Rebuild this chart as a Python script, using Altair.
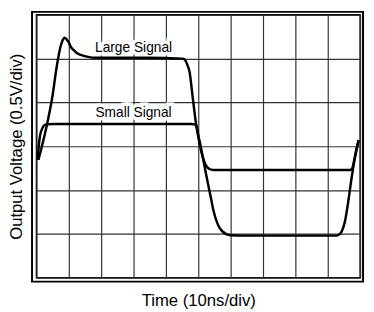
import altair as alt
import pandas as pd

# Time in ns (10 ns/div), voltage in V (0.5 V/div)
large_t = [0.61, 2.85, 4.85, 6.36, 7.39, 8.09, 8.70, 9.30, 9.91, 10.67, 11.42, 12.64, 13.94, 15.97, 18.0,
           34.2, 45.1, 45.8, 46.6, 47.3, 48.3, 49.3, 50.8, 52.3, 53.8, 54.8, 55.9, 57.4, 59.9, 62.9,
           92.6, 93.4, 94.2, 95.3, 96.3, 97.3, 98.3, 99.6]
large_v = [1.345, 1.68, 2.05, 2.43, 2.63, 2.71, 2.74, 2.72, 2.69, 2.63, 2.60, 2.56, 2.54, 2.52, 2.51,
           2.51, 2.50, 2.49, 2.43, 2.35, 2.05, 1.76, 1.49, 1.20, 0.93, 0.75, 0.62, 0.53, 0.485, 0.48,
           0.48, 0.49, 0.52, 0.64, 0.86, 1.12, 1.35, 1.57]

small_t = [0.36, 0.82, 1.21, 1.64, 2.18, 2.94, 5.36, 47.8, 48.8, 49.5, 50.0, 50.8, 51.8, 52.8, 54.4,
           97.0, 97.6, 98.0, 98.6, 99.3, 99.6]
small_v = [1.345, 1.54, 1.64, 1.69, 1.73, 1.75, 1.755, 1.755, 1.75, 1.72, 1.61, 1.46, 1.33, 1.26, 1.23,
           1.23, 1.25, 1.31, 1.42, 1.54, 1.57]

label_text = ["Large Signal", "Small Signal"]
label_t = [30.0, 30.0]
label_v = [2.571, 1.831]

x_grid = [0, 10, 20, 30, 40, 50, 60, 70, 80, 90, 100]
y_grid = [0, 0.5, 1.0, 1.5, 2.0, 2.5, 3.0]

rows = []
for i, (t, v) in enumerate(zip(large_t, large_v)):
    rows.append({"series": "Large", "t": t, "v": v, "idx": i})
for i, (t, v) in enumerate(zip(small_t, small_v)):
    rows.append({"series": "Small", "t": t, "v": v, "idx": i})
df = pd.DataFrame(rows)
labels = pd.DataFrame({"text": label_text, "t": label_t, "v": label_v})

FONT = "Liberation Sans"
x_scale = alt.Scale(domain=[0, 100], nice=False, zero=False)
y_scale = alt.Scale(domain=[0, 3], nice=False, zero=False)

x_axis = alt.Axis(values=x_grid, grid=True, labels=False, ticks=False, domain=False,
                  title="Time (10ns/div)", titleFont=FONT, titleFontSize=17,
                  titleFontWeight="normal", titleColor="black", titlePadding=15,
                  gridColor="#333333", gridWidth=1.2, gridOpacity=1)
y_axis = alt.Axis(values=y_grid, grid=True, labels=False, ticks=False, domain=False,
                  title="Output Voltage (0.5V/div)", titleFont=FONT, titleFontSize=17,
                  titleFontWeight="normal", titleColor="black", titlePadding=11,
                  gridColor="#333333", gridWidth=1.2, gridOpacity=1)

X = alt.X("t:Q", scale=x_scale, axis=x_axis)
Y = alt.Y("v:Q", scale=y_scale, axis=y_axis)

lines = alt.Chart(df).mark_line(color="black", strokeWidth=2.5, interpolate="monotone").encode(
    x=X, y=Y, detail="series:N", order="idx:Q",
)

halo = alt.Chart(labels).mark_text(font=FONT, fontSize=14, fill="white", stroke="white",
                                   strokeWidth=7, align="center", baseline="alphabetic").encode(
    x=X, y=Y, text="text:N")

text = alt.Chart(labels).mark_text(font=FONT, fontSize=14, color="black",
                                   align="center", baseline="alphabetic").encode(
    x=X, y=Y, text="text:N")

frame = alt.Chart(pd.DataFrame({"a": [0]})).mark_rect(
    fillOpacity=0, stroke="black", strokeWidth=2).encode(
    x=alt.value(-4.5), x2=alt.value(333), y=alt.value(-3), y2=alt.value(272))

chart = alt.layer(halo, lines, text, frame).properties(
    width=330, height=268,
    autosize=alt.AutoSizeParams(type="none"),
    padding={"left": 29, "top": 4, "right": 6, "bottom": 31},
).configure_view(stroke="black", strokeWidth=1.5)

chart.save("out.html", embed_options={"renderer": "svg", "actions": False})
